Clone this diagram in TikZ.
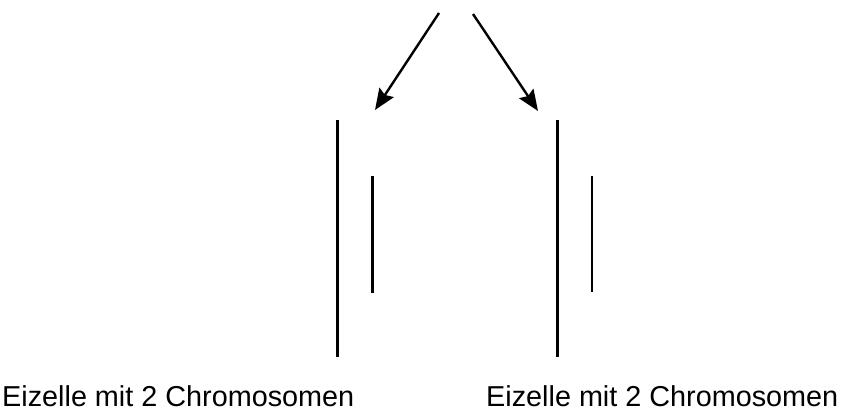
\documentclass[tikz,border=0pt]{standalone}
\usepackage{fontspec}
\setmainfont{Liberation Sans}
\usetikzlibrary{arrows.meta}
\begin{document}
\begin{tikzpicture}[x=1pt,y=-1pt,
  chromo/.style={line width=2.4pt},
  arr/.style={line width=2.4pt,-{Stealth[length=21pt,width=17pt,inset=3pt]}},
  lbl/.style={inner sep=0pt,anchor=base west,font=\fontsize{28.8pt}{32pt}\selectfont}]
\useasboundingbox (0,0) rectangle (843,410);
% arrows
\coordinate (s1) at (439,13);
\coordinate (t1) at (375,110);
\coordinate (s2) at (473,14);
\coordinate (t2) at (538,111);
\draw[arr] (s1) -- (t1);
\draw[arr] (s2) -- (t2);
% left egg cell chromosomes
\coordinate (l1a) at (337.5,120);
\coordinate (l1b) at (337.5,357);
\coordinate (l2a) at (372.3,176);
\coordinate (l2b) at (372.3,293);
\draw[chromo] (l1a) -- (l1b);
\draw[chromo] (l2a) -- (l2b);
% right egg cell chromosomes
\coordinate (r1a) at (557.3,120);
\coordinate (r1b) at (557.3,357);
\coordinate (r2a) at (591.7,176);
\coordinate (r2b) at (591.7,292);
\draw[chromo] (r1a) -- (r1b);
\draw[chromo] (r2a) -- (r2b);
% labels
\node[lbl] (lt) at (2,406.5) {Eizelle mit 2 Chromosomen};
\node[lbl] (rt) at (486,406.5) {Eizelle mit 2 Chromosomen};
\end{tikzpicture}
\end{document}
